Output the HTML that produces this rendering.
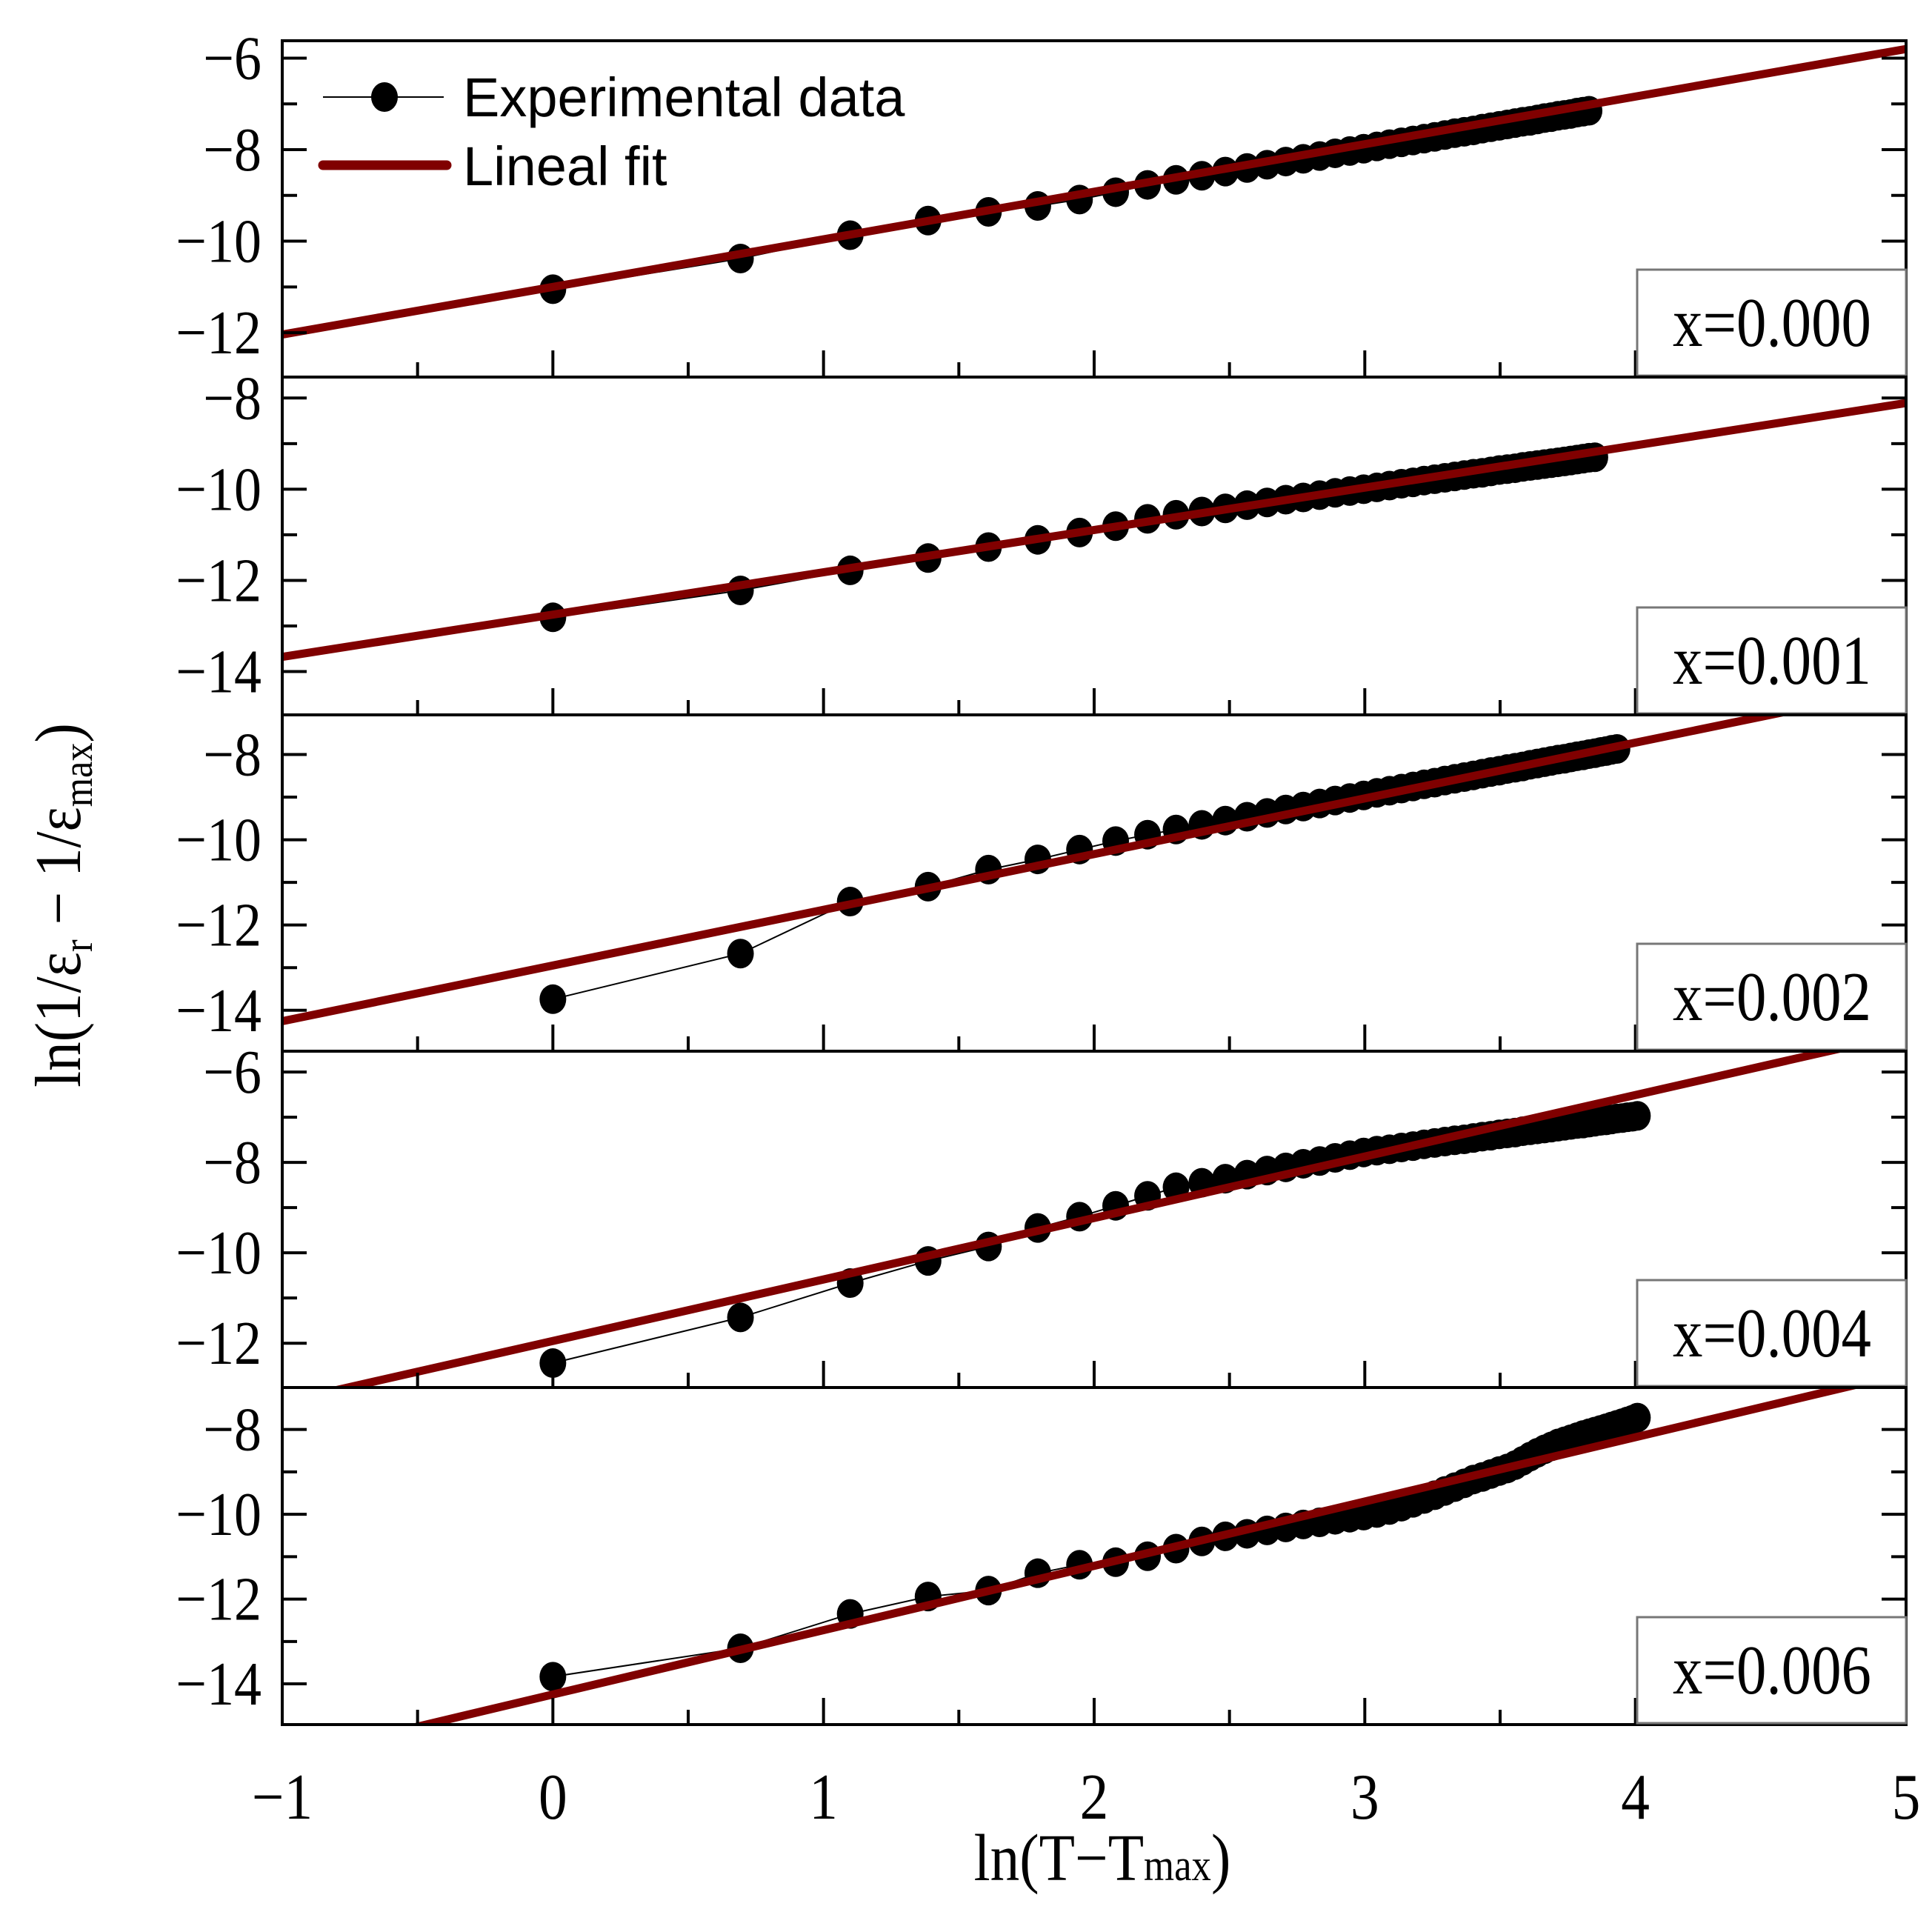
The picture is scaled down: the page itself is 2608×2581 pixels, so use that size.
<!DOCTYPE html>
<html><head><meta charset="utf-8"><style>
html,body{margin:0;padding:0;background:#fff}
body{position:relative}
svg{display:block}
</style></head><body>
<svg id="chart" width="2608" height="2581" viewBox="0 0 2608 2581" xmlns="http://www.w3.org/2000/svg">
<g id="root"></g>
</svg>
<script>
// ---- data ----
const panelLabels = ["x=0.000","x=0.001","x=0.002","x=0.004","x=0.006"];
const deltaT1 = Array.from({length:46},(_,i)=>i+1);
const deltaT2 = Array.from({length:47},(_,i)=>i+1);
const deltaT3 = Array.from({length:51},(_,i)=>i+1);
const deltaT4 = Array.from({length:55},(_,i)=>i+1);
const deltaT5 = Array.from({length:55},(_,i)=>i+1);
const series1 = [-11.05,-10.38,-9.87,-9.55,-9.36,-9.23,-9.09,-8.93,-8.77,-8.66,-8.57,-8.48,-8.40,-8.33,-8.26,-8.20,-8.14,-8.08,-8.03,-7.98,-7.93,-7.88,-7.84,-7.80,-7.76,-7.72,-7.68,-7.64,-7.61,-7.58,-7.54,-7.51,-7.48,-7.45,-7.42,-7.39,-7.37,-7.34,-7.31,-7.29,-7.26,-7.24,-7.22,-7.19,-7.17,-7.15];
const series2 = [-12.81,-12.22,-11.78,-11.51,-11.27,-11.11,-10.95,-10.81,-10.65,-10.56,-10.49,-10.42,-10.35,-10.29,-10.23,-10.18,-10.13,-10.08,-10.04,-10.00,-9.96,-9.92,-9.88,-9.85,-9.81,-9.78,-9.75,-9.72,-9.69,-9.66,-9.64,-9.61,-9.58,-9.56,-9.54,-9.51,-9.49,-9.47,-9.45,-9.43,-9.41,-9.39,-9.37,-9.35,-9.33,-9.31,-9.30];
const series3 = [-13.74,-12.67,-11.45,-11.10,-10.70,-10.46,-10.23,-10.03,-9.88,-9.76,-9.65,-9.55,-9.46,-9.37,-9.29,-9.22,-9.15,-9.08,-9.02,-8.96,-8.90,-8.85,-8.80,-8.75,-8.70,-8.66,-8.61,-8.57,-8.53,-8.49,-8.45,-8.41,-8.38,-8.34,-8.31,-8.28,-8.24,-8.21,-8.18,-8.15,-8.12,-8.10,-8.07,-8.04,-8.02,-7.99,-7.97,-7.94,-7.92,-7.89,-7.87];
const series4 = [-12.44,-11.43,-10.67,-10.18,-9.86,-9.45,-9.20,-8.96,-8.74,-8.55,-8.45,-8.36,-8.27,-8.18,-8.11,-8.03,-7.97,-7.90,-7.84,-7.78,-7.74,-7.71,-7.67,-7.64,-7.60,-7.57,-7.54,-7.51,-7.49,-7.46,-7.43,-7.41,-7.38,-7.36,-7.34,-7.31,-7.29,-7.27,-7.25,-7.23,-7.21,-7.19,-7.17,-7.15,-7.14,-7.12,-7.10,-7.08,-7.07,-7.05,-7.03,-7.02,-7.00,-6.99,-6.97];
const series5 = [-13.83,-13.16,-12.35,-11.94,-11.80,-11.39,-11.19,-11.13,-10.99,-10.81,-10.64,-10.52,-10.46,-10.38,-10.31,-10.24,-10.19,-10.13,-10.08,-10.03,-9.97,-9.90,-9.82,-9.73,-9.64,-9.55,-9.45,-9.36,-9.27,-9.18,-9.12,-9.05,-8.98,-8.92,-8.84,-8.74,-8.64,-8.55,-8.47,-8.40,-8.33,-8.28,-8.23,-8.18,-8.13,-8.09,-8.05,-8.01,-7.97,-7.93,-7.89,-7.85,-7.81,-7.77,-7.72];
const fitSlopes = [1.04, 0.928, 1.307, 1.36, 1.517];
const fitIntercepts = [-11.0, -12.75, -12.95, -11.95, -14.25];
const yMins = [-12.97,-14.95,-14.96,-12.98,-14.96];
const yMaxs = [-5.62,-7.54,-7.07,-5.54,-7.01];
const yTicks1 = [-12,-10,-8,-6];
const yTicks2 = [-14,-12,-10,-8];
const yTicks3 = [-14,-12,-10,-8];
const yTicks4 = [-12,-10,-8,-6];
const yTicks5 = [-14,-12,-10,-8];
const xTicks = [-1,0,1,2,3,4,5];

// ---- layout ----
const NS="http://www.w3.org/2000/svg";
const root=document.getElementById('root');
const L=381,R=2573;
const panelTops=[55,509,965,1419,1873];
const panelBots=[509,965,1419,1873,2328];
const xMin=-1,xMax=5;
const xs=v=>L+(v-xMin)/(xMax-xMin)*(R-L);
function mk(tag,attrs,parent){const e=document.createElementNS(NS,tag);for(const k in attrs)e.setAttribute(k,attrs[k]);(parent||root).appendChild(e);return e;}
function txt(x,y,anchor,size,sx,parent){return mk('text',{x:0,y:0,transform:'translate('+x+','+y+') scale('+sx+',1)','text-anchor':anchor,'font-family':'Liberation Serif, serif','font-size':size,fill:'#000'},parent);}
const fmt=v=>(v<0?'\u2212':'')+Math.abs(v);
const allDT=[deltaT1,deltaT2,deltaT3,deltaT4,deltaT5];
const allY=[series1,series2,series3,series4,series5];
const allTicks=[yTicks1,yTicks2,yTicks3,yTicks4,yTicks5];

for(let p=0;p<5;p++){
  const top=panelTops[p],bot=panelBots[p];
  const ys=v=>bot-(v-yMins[p])/(yMaxs[p]-yMins[p])*(bot-top);
  const g=mk('g',{});
  
  
  const cid='clip'+p;
  const cp=mk('clipPath',{id:cid},g);mk('rect',{x:L,y:top,width:R-L,height:bot-top},cp);
  const plot=mk('g',{'clip-path':'url(#'+cid+')'},g);
  const dts=allDT[p],yv=allY[p];
  const pts=dts.map((d,i)=>xs(Math.log(d)).toFixed(1)+','+ys(yv[i]).toFixed(1)).join(' ');
  const pl=mk('polyline',{points:pts,fill:'none',stroke:'#000','stroke-width':2},plot);
  
  
  dts.forEach((d,i)=>{
    const c=mk('ellipse',{cx:xs(Math.log(d)),cy:ys(yv[i]),rx:18,ry:20,fill:'#000'},plot);
    
    
  });
  const fl=mk('line',{x1:xs(xMin),y1:ys(fitIntercepts[p]+fitSlopes[p]*xMin),x2:xs(xMax),y2:ys(fitIntercepts[p]+fitSlopes[p]*xMax),stroke:'#800000','stroke-width':11},plot);
  
  
  mk('rect',{x:L,y:top,width:R-L,height:bot-top,fill:'none',stroke:'#000','stroke-width':4},g);
  for(let v=Math.ceil(yMins[p]);v<=yMaxs[p];v++){
    const y=ys(v),major=allTicks[p].includes(v);
    const len=major?33:20;
    mk('line',{x1:L,y1:y,x2:L+len,y2:y,stroke:'#000','stroke-width':4},g);
    mk('line',{x1:R,y1:y,x2:R-len,y2:y,stroke:'#000','stroke-width':4},g);
  }
  allTicks[p].forEach(v=>{
    const t=txt(353,ys(v)+28,'end',84,0.88,g);
    t.textContent=fmt(v);
    
    
  });
  for(let v=xMin;v<=xMax;v+=0.5){
    const major=Number.isInteger(v);
    mk('line',{x1:xs(v),y1:bot,x2:xs(v),y2:bot-(major?36:20),stroke:'#000','stroke-width':4},g);
  }
  const bx=mk('rect',{x:2210,y:bot-145,width:R-2210,height:143,fill:'#fff',stroke:'#777','stroke-width':3},g);
  
  
  const lt=txt(2392,bot-42,'middle',94,0.86,g);
  lt.textContent=panelLabels[p];
  
  
}
xTicks.forEach(v=>{
  const t=txt(xs(v),2455,'middle',88,0.88);
  t.textContent=fmt(v);
  
  
});
</script>
<svg style="position:absolute;left:0;top:0" width="2608" height="2581">
  <text transform="translate(1488,2538) scale(0.88,1)" x="0" y="0" text-anchor="middle" font-family="Liberation Serif, serif" font-size="90">ln(T−T<tspan font-size="60">max</tspan>)</text>
  <text transform="translate(108,1222) rotate(-90) scale(0.9,1)" x="0" y="0" text-anchor="middle" font-family="Liberation Serif, serif" font-size="88">ln(1/ε<tspan font-size="56" dy="16">r</tspan><tspan dy="-16"> − 1/ε</tspan><tspan font-size="56" dy="16">max</tspan><tspan dy="-16">)</tspan></text>
  <g>
    <line x1="436" y1="131" x2="599" y2="131" stroke="#000" stroke-width="2"/>
    <ellipse cx="519" cy="131" rx="18" ry="20" fill="#000"/>
    <text x="625" y="157" font-family="Liberation Sans, sans-serif" font-size="74">Experimental data</text>
    <line x1="436" y1="223" x2="603" y2="223" stroke="#800000" stroke-width="13" stroke-linecap="round"/>
    <text x="625" y="250" font-family="Liberation Sans, sans-serif" font-size="74">Lineal fit</text>
  </g>
</svg>
</body></html>
